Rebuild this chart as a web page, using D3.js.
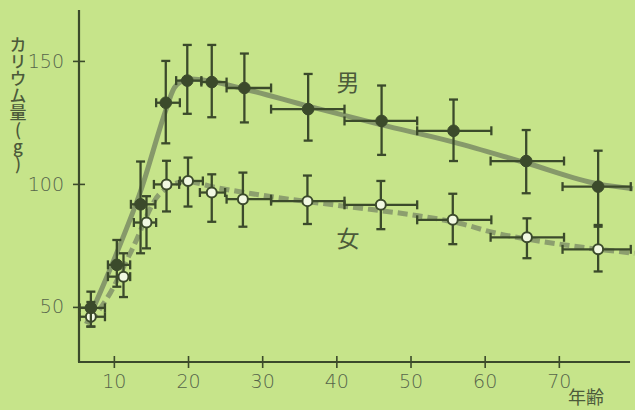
<!DOCTYPE html>
<html>
<head>
<meta charset="utf-8">
<script src="https://cdn.jsdelivr.net/npm/d3@7"></script>
<style>
  body { margin: 0; background: #c6e48a; }
  svg { display: block; }
</style>
</head>
<body>
<div id="chart"></div>
<script>
// age ticks and potassium ticks
const xTicks = [10, 20, 30, 40, 50, 60, 70];
const yTicks = [50, 100, 150];

// male (filled markers)
const maleAge = [6.9, 10.4, 13.6, 17.0, 19.9, 23.2, 27.6, 36.2, 46.1, 55.8, 65.6, 75.3];
const maleVal = [49.6, 67.1, 91.7, 133, 142, 141.4, 139, 130.4, 125.6, 121.6, 109.3, 98.9];
const maleLo  = [42, 58.2, 71.8, 116.5, 128.5, 127.1, 125, 117.6, 111.8, 109.3, 96.2, 82.6];
const maleHi  = [56.2, 77.2, 109.1, 150, 156.5, 156.5, 153, 144.7, 140, 134.3, 121.9, 113.5];
const maleAgeLo = [5.4, 9.2, 12.3, 15.7, 18.4, 21.8, 25.2, 31.2, 41.1, 50.9, 60.8, 70.5];
const maleAgeHi = [8.8, 12.2, 15.6, 18.9, 21.8, 25.2, 31.2, 41.1, 50.9, 60.9, 70.7, 79.7];

// female (open markers)
const femAge = [6.9, 11.3, 14.4, 17.1, 20.0, 23.2, 27.4, 36.1, 46.0, 55.7, 65.7, 75.3];
const femVal = [46, 62.3, 84.3, 99.8, 101.2, 96.5, 93.8, 93, 91.5, 85.4, 78.3, 73.4];
const femLo  = [42, 54, 73.8, 88.8, 90.8, 84.6, 82.6, 83.7, 81.6, 75.5, 69.8, 64.4];
const femHi  = [52, 71.8, 95, 109.4, 110.7, 103.9, 104.6, 103.4, 101.2, 96, 86, 83.3];
const femAgeLo = [5.4, 9.2, 12.7, 15.4, 18.9, 21.6, 25.2, 31.2, 41.1, 50.9, 60.8, 70.5];
const femAgeHi = [8.8, 12.2, 15.7, 18.8, 22.0, 25.0, 31.2, 41.1, 50.9, 60.9, 70.7, 79.7];

// fitted curves
const maleFit = [[6.3, 43], [10.4, 72], [13.6, 97], [17.1, 130.8], [18, 138.2], [19.1, 141.6], [20.5, 142.6],
                 [23.2, 141.6], [27.6, 138.6], [36.2, 131.6], [46.1, 124], [55.8, 117], [65.6, 108.5], [75.3, 100], [80, 98]];
const femFit = [[6.8, 44], [9.5, 55.6], [12.4, 73], [16.2, 96], [19.7, 101], [23.8, 98.5], [29.7, 95.5],
                [41.4, 90.8], [50, 87.5], [56.6, 84], [60.7, 80.6], [70.8, 75.2], [80.2, 71.8]];

const width = 635;
const height = 410;
const dark = "#3b4a2b";
const fitColor = "#86996a";
const labelColor = "#4c5a3a";

const svg = d3.select("#chart").append("svg")
    .attr("width", width)
    .attr("height", height);

svg.append("rect").attr("width", width).attr("height", height).attr("fill", "#c6e48a");

const x = d3.scaleLinear().domain([5.3, 80]).range([79, 633]);
const y = d3.scaleLinear().domain([27.6, 170.7]).range([362, 10]);

// axes
const xAxis = svg.append("g")
    .attr("transform", "translate(0," + y(27.6) + ")")
    .call(d3.axisBottom(x).tickValues(xTicks).tickSize(6).tickPadding(7));
xAxis.select(".domain").remove();
xAxis.selectAll(".tick line").attr("y1", -6).attr("y2", 6).attr("stroke", dark).attr("stroke-width", 1.6);
xAxis.selectAll(".tick text")
    .attr("font-family", "DejaVu Sans").attr("font-weight", 200).attr("font-size", 19).attr("fill", "#56644a");

const yAxis = svg.append("g")
    .attr("transform", "translate(" + x(5.3) + ",0)")
    .call(d3.axisLeft(y).tickValues(yTicks).tickSize(6).tickPadding(9));
yAxis.select(".domain").remove();
yAxis.selectAll(".tick line").attr("x1", -6).attr("x2", 6).attr("stroke", dark).attr("stroke-width", 1.6);
yAxis.selectAll(".tick text")
    .attr("font-family", "DejaVu Sans").attr("font-weight", 200).attr("font-size", 19).attr("fill", "#56644a");

svg.append("line")
    .attr("x1", x(5.3)).attr("x2", x(5.3)).attr("y1", y(170.7)).attr("y2", y(27.6))
    .attr("stroke", dark).attr("stroke-width", 2.2);
svg.append("line")
    .attr("x1", x(5.3) - 1).attr("x2", x(79.6)).attr("y1", y(27.6)).attr("y2", y(27.6))
    .attr("stroke", dark).attr("stroke-width", 2.2);

// fitted lines
const line = d3.line().x(d => x(d[0])).y(d => y(d[1])).curve(d3.curveMonotoneX);

svg.append("path").datum(femFit)
    .attr("d", line).attr("fill", "none")
    .attr("stroke", "#8c9f6e").attr("stroke-width", 5).attr("stroke-dasharray", "10,5");

svg.append("path").datum(maleFit)
    .attr("d", line).attr("fill", "none")
    .attr("stroke", fitColor).attr("stroke-width", 5);

// error bars + markers
const drawSeries = (ages, vals, lo, hi, aLo, aHi, filled) => {
    const data = ages.map((a, i) => ({ a, v: vals[i], lo: lo[i], hi: hi[i], aLo: aLo[i], aHi: aHi[i] }));
    const g = svg.append("g").attr("stroke", dark).attr("stroke-width", 2.3).attr("fill", "none");
    const cap = 4.5;
    const e = g.selectAll("g").data(data).enter().append("g");
    e.append("line").attr("x1", d => x(d.a)).attr("x2", d => x(d.a)).attr("y1", d => y(d.lo)).attr("y2", d => y(d.hi));
    e.append("line").attr("x1", d => x(d.aLo)).attr("x2", d => x(d.aHi)).attr("y1", d => y(d.v)).attr("y2", d => y(d.v));
    e.append("line").attr("x1", d => x(d.a) - cap).attr("x2", d => x(d.a) + cap).attr("y1", d => y(d.lo)).attr("y2", d => y(d.lo));
    e.append("line").attr("x1", d => x(d.a) - cap).attr("x2", d => x(d.a) + cap).attr("y1", d => y(d.hi)).attr("y2", d => y(d.hi));
    e.append("line").attr("x1", d => x(d.aLo)).attr("x2", d => x(d.aLo)).attr("y1", d => y(d.v) - cap).attr("y2", d => y(d.v) + cap);
    e.append("line").attr("x1", d => x(d.aHi)).attr("x2", d => x(d.aHi)).attr("y1", d => y(d.v) - cap).attr("y2", d => y(d.v) + cap);
    e.append("circle")
        .attr("cx", d => x(d.a)).attr("cy", d => y(d.v))
        .attr("r", filled ? 5.8 : 5)
        .attr("fill", filled ? dark : "#f1f8e2")
        .attr("stroke-width", filled ? 1 : 2);
};

drawSeries(femAge, femVal, femLo, femHi, femAgeLo, femAgeHi, false);
drawSeries(maleAge, maleVal, maleLo, maleHi, maleAgeLo, maleAgeHi, true);

// labels
const jp = "Noto Sans CJK JP";
svg.append("text").attr("x", 348).attr("y", 91).attr("text-anchor", "middle")
    .attr("font-family", jp).attr("font-size", 23).attr("fill", labelColor).text("男");
svg.append("text").attr("x", 348).attr("y", 246.5).attr("text-anchor", "middle")
    .attr("font-family", jp).attr("font-size", 23).attr("fill", labelColor).text("女");
svg.append("text").attr("x", 586).attr("y", 404).attr("text-anchor", "middle")
    .attr("font-family", jp).attr("font-size", 18).attr("fill", labelColor).text("年齢");

// vertical y-axis title, written top to bottom
svg.append("text")
    .attr("x", 18).attr("y", 36)
    .attr("font-family", jp).attr("font-size", 17).attr("font-weight", 500)
    .attr("fill", labelColor)
    .style("writing-mode", "vertical-rl")
    .style("text-orientation", "upright")
    .text("カリウム量(g)");
</script>
</body>
</html>
